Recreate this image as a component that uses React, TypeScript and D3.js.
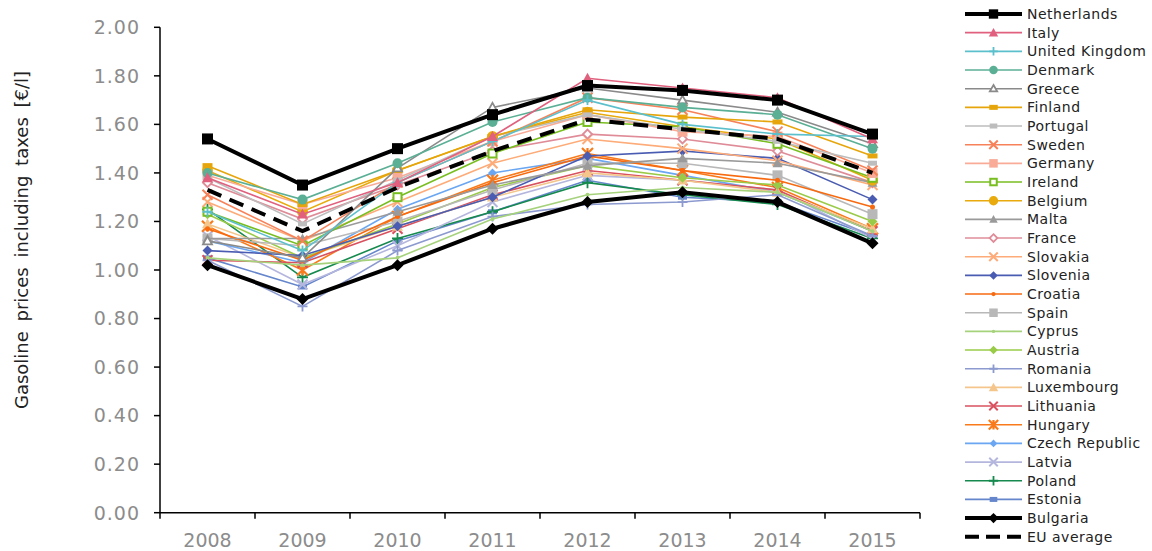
import React from 'react';
import * as d3 from 'd3';

// years and axis ticks
const years = ['2008', '2009', '2010', '2011', '2012', '2013', '2014', '2015'];
const yTicks = [0, 0.2, 0.4, 0.6, 0.8, 1.0, 1.2, 1.4, 1.6, 1.8, 2.0];

// gasoline price per country, 2008..2015 [€/l]
const netherlands = [1.54, 1.35, 1.5, 1.64, 1.76, 1.74, 1.7, 1.56];
const italy = [1.38, 1.23, 1.36, 1.55, 1.79, 1.75, 1.71, 1.54];
const unitedKingdom = [1.24, 1.08, 1.36, 1.53, 1.7, 1.6, 1.56, 1.55];
const denmark = [1.4, 1.29, 1.44, 1.61, 1.71, 1.67, 1.64, 1.5];
const greece = [1.12, 1.05, 1.42, 1.67, 1.75, 1.7, 1.65, 1.52];
const finland = [1.43, 1.27, 1.41, 1.55, 1.66, 1.63, 1.61, 1.47];
const portugal = [1.38, 1.19, 1.37, 1.55, 1.64, 1.58, 1.53, 1.44];
const sweden = [1.31, 1.12, 1.36, 1.53, 1.71, 1.66, 1.57, 1.41];
const germany = [1.39, 1.27, 1.38, 1.53, 1.64, 1.57, 1.55, 1.4];
const ireland = [1.24, 1.1, 1.3, 1.48, 1.61, 1.59, 1.52, 1.38];
const belgium = [1.41, 1.24, 1.41, 1.55, 1.65, 1.59, 1.54, 1.37];
const malta = [1.13, 1.13, 1.24, 1.35, 1.43, 1.46, 1.44, 1.36];
const france = [1.36, 1.21, 1.35, 1.49, 1.56, 1.54, 1.49, 1.36];
const slovakia = [1.28, 1.12, 1.28, 1.44, 1.54, 1.5, 1.45, 1.35];
const slovenia = [1.08, 1.06, 1.18, 1.3, 1.47, 1.49, 1.46, 1.29];
const croatia = [1.17, 1.04, 1.22, 1.36, 1.47, 1.41, 1.37, 1.26];
const spain = [1.13, 1.1, 1.2, 1.33, 1.44, 1.44, 1.39, 1.23];
const cyprus = [1.05, 1.02, 1.05, 1.21, 1.31, 1.34, 1.32, 1.16];
const austria = [1.23, 1.05, 1.19, 1.34, 1.43, 1.38, 1.35, 1.2];
const romania = [1.04, 0.85, 1.08, 1.22, 1.27, 1.28, 1.31, 1.14];
const luxembourg = [1.19, 1.05, 1.18, 1.3, 1.4, 1.37, 1.32, 1.17];
const lithuania = [1.04, 1.03, 1.17, 1.31, 1.41, 1.37, 1.33, 1.16];
const hungary = [1.18, 1.0, 1.22, 1.37, 1.48, 1.41, 1.34, 1.17];
const czechRepublic = [1.12, 1.03, 1.25, 1.4, 1.46, 1.39, 1.32, 1.16];
const latvia = [1.14, 0.94, 1.1, 1.28, 1.39, 1.37, 1.33, 1.13];
const poland = [1.25, 0.97, 1.13, 1.24, 1.36, 1.31, 1.27, 1.13];
const estonia = [1.05, 0.93, 1.12, 1.24, 1.37, 1.3, 1.28, 1.14];
const bulgaria = [1.02, 0.88, 1.02, 1.17, 1.28, 1.32, 1.28, 1.11];
const euAverage = [1.33, 1.16, 1.34, 1.49, 1.62, 1.58, 1.54, 1.4];

type Series = { name: string; values: number[]; color: string; marker: string; size: number; width?: number; dash?: string };

const series: Series[] = [
  { name: 'Netherlands', values: netherlands, color: '#000000', marker: 'square', size: 11, width: 4 },
  { name: 'Italy', values: italy, color: '#e0607e', marker: 'triangle', size: 11 },
  { name: 'United Kingdom', values: unitedKingdom, color: '#5cbfcc', marker: 'plus', size: 10 },
  { name: 'Denmark', values: denmark, color: '#5aaf95', marker: 'circle', size: 10 },
  { name: 'Greece', values: greece, color: '#8a8a8a', marker: 'triangleOpen', size: 11 },
  { name: 'Finland', values: finland, color: '#e6a50a', marker: 'dash', size: 10 },
  { name: 'Portugal', values: portugal, color: '#bdbdbd', marker: 'dash', size: 9 },
  { name: 'Sweden', values: sweden, color: '#f7825a', marker: 'x', size: 10 },
  { name: 'Germany', values: germany, color: '#f9ab98', marker: 'square', size: 10 },
  { name: 'Ireland', values: ireland, color: '#78be20', marker: 'squareOpen', size: 10 },
  { name: 'Belgium', values: belgium, color: '#e8aa0c', marker: 'circle', size: 11 },
  { name: 'Malta', values: malta, color: '#9a9a9a', marker: 'triangle', size: 10 },
  { name: 'France', values: france, color: '#df8c98', marker: 'diamondOpen', size: 9 },
  { name: 'Slovakia', values: slovakia, color: '#fdab78', marker: 'x', size: 10 },
  { name: 'Slovenia', values: slovenia, color: '#4a5cb2', marker: 'diamond', size: 10 },
  { name: 'Croatia', values: croatia, color: '#f76a10', marker: 'dot', size: 5 },
  { name: 'Spain', values: spain, color: '#b8b8b8', marker: 'square', size: 10 },
  { name: 'Cyprus', values: cyprus, color: '#a6d27c', marker: 'dot', size: 4 },
  { name: 'Austria', values: austria, color: '#9acb48', marker: 'diamond', size: 10 },
  { name: 'Romania', values: romania, color: '#8c9ad0', marker: 'plus', size: 10 },
  { name: 'Luxembourg', values: luxembourg, color: '#f4c68c', marker: 'triangle', size: 11 },
  { name: 'Lithuania', values: lithuania, color: '#d9505e', marker: 'x', size: 10 },
  { name: 'Hungary', values: hungary, color: '#f97a1a', marker: 'asterisk', size: 11 },
  { name: 'Czech Republic', values: czechRepublic, color: '#6aa6f2', marker: 'diamond', size: 9 },
  { name: 'Latvia', values: latvia, color: '#b4b6de', marker: 'x', size: 10 },
  { name: 'Poland', values: poland, color: '#168a4e', marker: 'plus', size: 11 },
  { name: 'Estonia', values: estonia, color: '#6586cc', marker: 'dash', size: 9 },
  { name: 'Bulgaria', values: bulgaria, color: '#000000', marker: 'diamond', size: 12, width: 4 },
  { name: 'EU average', values: euAverage, color: '#000000', marker: 'none', size: 0, width: 4, dash: '15,9' },
];

function Marker({ type, x, y, c, s }: { type: string; x: number; y: number; c: string; s: number }) {
  const h = s / 2;
  switch (type) {
    case 'square':
      return <rect x={x - h} y={y - h} width={s} height={s} fill={c} />;
    case 'squareOpen':
      return <rect x={x - h + 1} y={y - h + 1} width={s - 2} height={s - 2} fill="white" stroke={c} strokeWidth={2} />;
    case 'triangle':
      return <path d={`M${x},${y - h}L${x + h},${y + h * 0.8}L${x - h},${y + h * 0.8}Z`} fill={c} />;
    case 'triangleOpen':
      return <path d={`M${x},${y - h + 1}L${x + h - 1},${y + h * 0.8 - 1}L${x - h + 1},${y + h * 0.8 - 1}Z`} fill="white" stroke={c} strokeWidth={1.8} />;
    case 'circle':
    case 'dot':
      return <circle cx={x} cy={y} r={h} fill={c} />;
    case 'diamond':
      return <path d={`M${x},${y - h}L${x + h},${y}L${x},${y + h}L${x - h},${y}Z`} fill={c} />;
    case 'diamondOpen':
      return <path d={`M${x},${y - h}L${x + h},${y}L${x},${y + h}L${x - h},${y}Z`} fill="white" stroke={c} strokeWidth={1.8} />;
    case 'dash':
      return <rect x={x - h} y={y - 2.5} width={s} height={5} fill={c} />;
    case 'plus':
      return <path d={`M${x - h},${y}H${x + h}M${x},${y - h}V${y + h}`} stroke={c} strokeWidth={1.8} />;
    case 'x':
      return <path d={`M${x - h},${y - h}L${x + h},${y + h}M${x + h},${y - h}L${x - h},${y + h}`} stroke={c} strokeWidth={2} />;
    case 'asterisk':
      return <path d={`M${x - h},${y - h}L${x + h},${y + h}M${x + h},${y - h}L${x - h},${y + h}M${x},${y - h}V${y + h}`} stroke={c} strokeWidth={2.2} />;
    default:
      return null;
  }
}

export default function App() {
  const width = 1152;
  const height = 551;
  const left = 160;
  const right = 920;
  const top = 27.3;
  const bottom = 512.7;

  const x = d3.scaleBand().domain(years).range([left, right]);
  const y = d3.scaleLinear().domain([0, 2]).range([bottom, top]);
  const cx = (i: number) => (x(years[i]) as number) + x.bandwidth() / 2;
  const line = d3
    .line<number>()
    .x((_, i) => cx(i))
    .y((d) => y(d));

  const font = '"DejaVu Sans", Verdana, sans-serif';
  // thin lines first, heavy lines on top
  const drawOrder = [...series].sort((a, b) => (a.width ? 1 : 0) - (b.width ? 1 : 0) || series.indexOf(b) - series.indexOf(a));

  const legendX = 965;
  const legendY = 14;
  const legendStep = 18.67;

  return (
    <svg width={width} height={height} style={{ position: 'absolute', left: 0, top: 0, background: 'white' }} fontFamily={font}>
      {/* y axis */}
      <line x1={left} x2={left} y1={top} y2={bottom} stroke="#000" strokeWidth={1.5} />
      {yTicks.map((t) => (
        <g key={t}>
          <line x1={left - 6} x2={left} y1={y(t)} y2={y(t)} stroke="#000" strokeWidth={1.5} />
          <text x={left - 20} y={y(t)} dy="0.36em" textAnchor="end" fontSize={19} fill="#8c8c8c" letterSpacing="1">
            {d3.format('.2f')(t)}
          </text>
        </g>
      ))}
      <text transform={`translate(28,${(top + bottom) / 2 - 30}) rotate(-90)`} textAnchor="middle" fontSize={18} fill="#222" wordSpacing="4">
        Gasoline prices including taxes [€/l]
      </text>

      {/* x axis */}
      <line x1={left} x2={right} y1={bottom} y2={bottom} stroke="#000" strokeWidth={1.5} />
      {years.map((yr, i) => (
        <g key={yr}>
          <line x1={x(yr) as number} x2={x(yr) as number} y1={bottom} y2={bottom + 6} stroke="#000" strokeWidth={1.5} />
          <text x={cx(i)} y={bottom + 34} textAnchor="middle" fontSize={19} fill="#8c8c8c">
            {yr}
          </text>
        </g>
      ))}
      <line x1={right} x2={right} y1={bottom} y2={bottom + 6} stroke="#000" strokeWidth={1.5} />

      {/* series */}
      {drawOrder.map((s) => (
        <g key={s.name}>
          <path d={line(s.values) as string} fill="none" stroke={s.color} strokeWidth={s.width ?? 1.6} strokeDasharray={s.dash} />
          {s.values.map((v, i) => (
            <Marker key={i} type={s.marker} x={cx(i)} y={y(v)} c={s.color} s={s.size} />
          ))}
        </g>
      ))}

      {/* legend */}
      {series.map((s, i) => {
        const ly = legendY + i * legendStep;
        return (
          <g key={s.name}>
            <line x1={legendX} x2={legendX + 57} y1={ly} y2={ly} stroke={s.color} strokeWidth={s.width ?? 1.6} strokeDasharray={s.dash ? '14,7' : undefined} />
            <Marker type={s.marker} x={legendX + 28.5} y={ly} c={s.color} s={s.size * 0.85} />
            <text x={legendX + 62} y={ly} dy="0.36em" fontSize={14} fill="#222" letterSpacing="0.5">
              {s.name}
            </text>
          </g>
        );
      })}
    </svg>
  );
}
